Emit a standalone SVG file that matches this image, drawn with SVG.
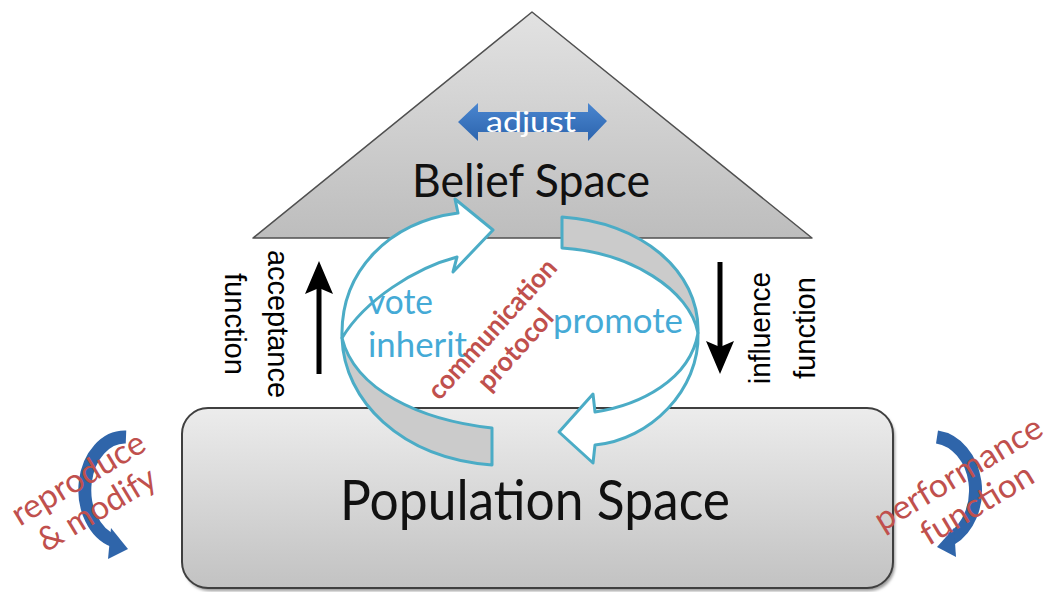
<svg xmlns="http://www.w3.org/2000/svg" width="1049" height="592" viewBox="0 0 1049 592">
  <defs>
    <linearGradient id="gTri" x1="0" y1="0" x2="0" y2="1">
      <stop offset="0" stop-color="#e2e2e2"/>
      <stop offset="1" stop-color="#bdbdbd"/>
    </linearGradient>
    <linearGradient id="gPop" x1="0" y1="0" x2="0" y2="1">
      <stop offset="0" stop-color="#ececec"/>
      <stop offset="1" stop-color="#c2c2c2"/>
    </linearGradient>
    <linearGradient id="gBlue" x1="0" y1="0" x2="0" y2="1">
      <stop offset="0" stop-color="#4a86d0"/>
      <stop offset="1" stop-color="#2c64ad"/>
    </linearGradient>
    <filter id="soft" x="-5%" y="-5%" width="110%" height="115%">
      <feGaussianBlur stdDeviation="1.5"/>
    </filter>
  </defs>
  <style>
    .calm { font-family: Lato, "Open Sans", "Liberation Sans", sans-serif; }
    .arial { font-family: "Liberation Sans", Arial, sans-serif; font-size: 29px; fill: #000; }
    .title { fill: #111; }
    .cyan { fill: #45aad6; font-size: 34px; }
    .red { fill: #c0504d; }
    .ribbon { stroke: #4bacc6; stroke-width: 3; stroke-linejoin: round; }
    .face { fill: #ffffff; }
    .back { fill: #cbcbcb; }
    .sideArc { fill: none; stroke: #2f65aa; stroke-width: 13; }
    .sideHead { fill: #2f65aa; }
  </style>

  <rect width="1049" height="592" fill="#ffffff"/>

  <!-- Belief space: the triangle with its adjust arrow -->
  <g id="belief-space">
    <line x1="256" y1="240" x2="810" y2="240" stroke="#9a9a9a" stroke-width="3" filter="url(#soft)"/>
    <polygon points="532,12 253,238 812,238" fill="url(#gTri)" stroke="#505050" stroke-width="1.5" stroke-linejoin="round"/>
    <g id="adjust">
      <polygon points="458,122 478,103 478,112 588,112 588,103 607,121 588,141 588,132 478,132 478,141" fill="url(#gBlue)"/>
      <text class="calm" x="531" y="132" font-size="28" fill="#ffffff" text-anchor="middle" textLength="90" lengthAdjust="spacingAndGlyphs">adjust</text>
    </g>
    <text class="calm title" x="531" y="197" font-size="46" text-anchor="middle" textLength="238" lengthAdjust="spacingAndGlyphs">Belief Space</text>
  </g>

  <!-- Population space -->
  <g id="population-space">
    <rect x="184" y="411" width="711" height="180" rx="26" fill="#9a9a9a" filter="url(#soft)"/>
    <rect x="182" y="408" width="711" height="180" rx="26" fill="url(#gPop)" stroke="#3f3f3f" stroke-width="2"/>
    <text class="calm title" x="535" y="520" font-size="56" text-anchor="middle" textLength="390" lengthAdjust="spacingAndGlyphs">Population Space</text>
  </g>

  <!-- Connectors -->
  <g id="connectors">
    <!-- acceptance: up -->
    <g id="acceptance-arrow">
      <line x1="319" y1="374" x2="319" y2="286" stroke="#000" stroke-width="5"/>
      <polygon points="319,261 333,294 319,288 305,294" fill="#000"/>
    </g>
    <!-- influence: down -->
    <g id="influence-arrow">
      <line x1="720" y1="262" x2="720" y2="349" stroke="#000" stroke-width="5"/>
      <polygon points="720,374 734,341 720,347 706,341" fill="#000"/>
    </g>

    <!-- twisted ribbon arrow on the left, rising to the belief space -->
    <g id="rise-arrow" class="ribbon">
      <path class="back" d="M342,338 C344,400 400,458 492,465 L492,428 C420,420 355,390 342,338 Z"/>
      <path class="face" d="M342,338 C340,270 390,222 458,213 L455,199 L493,230 L453,272 L457,257 C415,268 365,300 342,338 Z"/>
    </g>
    <!-- twisted ribbon arrow on the right, descending to the population space -->
    <g id="descend-arrow" class="ribbon">
      <path class="back" d="M562,217 C640,222 700,270 698,333 C690,290 630,252 562,248 Z"/>
      <path class="face" d="M698,333 C700,390 650,440 595,445 L593,463 L559,432 L593,394 L595,412 C640,405 690,380 698,333 Z"/>
    </g>

    <!-- reproduce & modify loop -->
    <g id="reproduce-loop">
      <path class="sideArc" d="M126,437 A40,53 0 0 0 114,541"/>
      <polygon class="sideHead" points="128,549 108,559 111,528"/>
    </g>
    <!-- performance loop -->
    <g id="performance-loop">
      <path class="sideArc" d="M937,437 A44,54 0 0 1 951,539"/>
      <polygon class="sideHead" points="937,547 954,528 956,557"/>
    </g>
  </g>

  <!-- Labels -->
  <g id="labels">
    <text class="arial" transform="translate(268,324) rotate(90)" text-anchor="middle" textLength="148" lengthAdjust="spacingAndGlyphs">acceptance</text>
    <text class="arial" transform="translate(225,324) rotate(90)" text-anchor="middle" textLength="102" lengthAdjust="spacingAndGlyphs">function</text>
    <text class="arial" transform="translate(770,328) rotate(-90)" text-anchor="middle" textLength="112" lengthAdjust="spacingAndGlyphs">influence</text>
    <text class="arial" transform="translate(815,328) rotate(-90)" text-anchor="middle" textLength="102" lengthAdjust="spacingAndGlyphs">function</text>

    <text class="calm cyan" x="368" y="314" textLength="65" lengthAdjust="spacingAndGlyphs">vote</text>
    <text class="calm cyan" x="368" y="357" textLength="99" lengthAdjust="spacingAndGlyphs">inherit</text>
    <text class="calm cyan" x="553" y="333" textLength="130" lengthAdjust="spacingAndGlyphs">promote</text>

    <g class="calm red" font-weight="bold" font-size="27" text-anchor="middle" transform="translate(499,335) rotate(-48)">
      <text x="0" y="0" textLength="178" lengthAdjust="spacingAndGlyphs">communication</text>
      <text x="0" y="31" textLength="99" lengthAdjust="spacingAndGlyphs">protocol</text>
    </g>

    <g class="calm red" font-size="33" text-anchor="middle" transform="translate(84,488) rotate(-31)">
      <text x="0" y="0" textLength="150" lengthAdjust="spacingAndGlyphs">reproduce</text>
      <text x="0" y="36" textLength="132" lengthAdjust="spacingAndGlyphs">&amp; modify</text>
    </g>
    <g class="calm red" font-size="33" text-anchor="middle" transform="translate(964,483) rotate(-31)">
      <text x="0" y="0" textLength="190" lengthAdjust="spacingAndGlyphs">performance</text>
      <text x="0" y="36" textLength="126" lengthAdjust="spacingAndGlyphs">function</text>
    </g>
  </g>
</svg>
